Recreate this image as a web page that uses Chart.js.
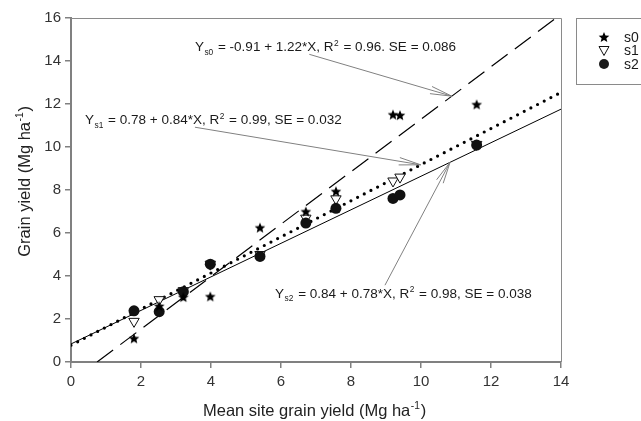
<!DOCTYPE html>
<html><head><meta charset="utf-8">
<script src="https://cdn.jsdelivr.net/npm/chart.js@4"></script>
<style>html,body{margin:0;padding:0;background:#fff}#wrap{width:641px;height:421px}</style>
</head><body><div id="wrap"><canvas id="c" width="641" height="421"></canvas></div>
<script>
// ---- data ----
const siteMeans = [1.8, 2.52, 3.21, 3.98, 5.4, 6.71, 7.57, 9.2, 9.4, 11.59];
const s0Yield = [1.1, 2.6, 3.02, 3.05, 6.25, 7.0, 7.94, 11.51, 11.48, 11.98];
const s1Yield = [1.89, 2.9, 3.32, 4.55, 5.0, 6.69, 7.59, 8.42, 8.6, 10.12];
const s2Yield = [2.38, 2.34, 3.27, 4.55, 4.91, 6.46, 7.15, 7.61, 7.77, 10.09];
const seriesNames = ['s0', 's1', 's2'];
const intercepts = [-0.91, 0.78, 0.84];
const slopes = [1.22, 0.84, 0.78];
const r2Values = ['0.96', '0.99', '0.98'];
const seValues = ['0.086', '0.032', '0.038'];
const xTicks = [0, 2, 4, 6, 8, 10, 12, 14];
const yTicks = [0, 2, 4, 6, 8, 10, 12, 14, 16];
const xTitle = 'Mean site grain yield (Mg ha';
const yTitle = 'Grain yield (Mg ha';

const FONT = '"Liberation Sans", Arial, sans-serif';
const X_MIN = 0, X_MAX = 14, Y_MIN = 0, Y_MAX = 16;

function pts(ys) { return siteMeans.map((x, i) => ({ x: x, y: ys[i] })); }
function fitY(k, x) { return intercepts[k] + slopes[k] * x; }
function regLine(k) {
  const a = intercepts[k], b = slopes[k];
  let x0 = X_MIN, y0 = fitY(k, x0);
  if (y0 < Y_MIN) { x0 = (Y_MIN - a) / b; y0 = Y_MIN; }
  let x1 = X_MAX, y1 = fitY(k, x1);
  if (y1 > Y_MAX) { x1 = (Y_MAX - a) / b; y1 = Y_MAX; }
  return [{ x: x0, y: y0 }, { x: x1, y: y1 }];
}

function makeStar(r) {
  const c = document.createElement('canvas');
  const s = Math.ceil(r * 2 + 2); c.width = s; c.height = s;
  const g = c.getContext('2d'); g.fillStyle = '#000'; g.beginPath();
  for (let i = 0; i < 10; i++) {
    const rr = i % 2 === 0 ? r : r * 0.45;
    const ang = -Math.PI / 2 + i * Math.PI / 5;
    const px = s / 2 + rr * Math.cos(ang), py = s / 2 + rr * Math.sin(ang) + 0.5;
    i === 0 ? g.moveTo(px, py) : g.lineTo(px, py);
  }
  g.closePath(); g.fill(); return c;
}
const starImg = makeStar(5.6);

function eqParts(k) {
  const a = intercepts[k];
  const aStr = a < 0 ? '-' + Math.abs(a).toFixed(2) : a.toFixed(2);
  const sep = k === 0 ? '. ' : ', ';
  return [
    { t: 'Y' }, { t: 's' + k, sub: true },
    { t: ' = ' + aStr + ' + ' + slopes[k].toFixed(2) + '*' },
    { t: 'X', mark: true },
    { t: ', R' }, { t: '2', sup: true },
    { t: ' = ' + r2Values[k] + sep + 'SE = ' + seValues[k] }
  ];
}

function drawRich(ctx, parts, x, y, size) {
  let cx = x, markX = null;
  for (const p of parts) {
    if (p.sub || p.sup) {
      ctx.font = (size * 0.62) + 'px ' + FONT;
      const dy = p.sub ? size * 0.28 : -size * 0.42;
      ctx.fillText(p.t, cx + 0.5, y + dy);
      cx += ctx.measureText(p.t).width + 1.5;
    } else {
      ctx.font = size + 'px ' + FONT;
      if (p.mark) markX = cx;
      ctx.fillText(p.t, cx, y);
      cx += ctx.measureText(p.t).width;
    }
  }
  return { width: cx - x, markX: markX };
}

function arrow(ctx, x0, y0, x1, y1) {
  ctx.beginPath(); ctx.moveTo(x0, y0); ctx.lineTo(x1, y1); ctx.stroke();
  const ang = Math.atan2(y1 - y0, x1 - x0), L = 22, w = 0.17;
  ctx.beginPath();
  ctx.moveTo(x1 - L * Math.cos(ang - w), y1 - L * Math.sin(ang - w));
  ctx.lineTo(x1, y1);
  ctx.lineTo(x1 - L * Math.cos(ang + w), y1 - L * Math.sin(ang + w));
  ctx.stroke();
}

// annotation layout: text baseline anchor (data coords), arrow tail side, tip x on fit line
const annLayout = [
  { tx: 3.54, ty: 14.45, tail: 'below', tipX: 10.88 },
  { tx: 0.40, ty: 11.06, tail: 'below', tipX: 9.99 },
  { tx: 5.83, ty: 2.99, tail: 'above', tipX: 10.83 }
];
const ANN_SIZE = 13.5;

const decor = {
  id: 'decor',
  afterDatasetsDraw(chart) {
    const ctx = chart.ctx, xs = chart.scales.x, ys = chart.scales.y, ca = chart.chartArea;
    ctx.save();
    ctx.strokeStyle = '#8a8a8a'; ctx.lineWidth = 1;
    ctx.beginPath(); ctx.moveTo(ca.left, ca.top + 0.5); ctx.lineTo(ca.right + 0.5, ca.top + 0.5); ctx.lineTo(ca.right + 0.5, ca.bottom); ctx.stroke();
    ctx.fillStyle = '#1a1a1a'; ctx.textBaseline = 'alphabetic'; ctx.textAlign = 'left';
    annLayout.forEach((L, k) => {
      const bx = xs.getPixelForValue(L.tx), by = ys.getPixelForValue(L.ty);
      const r = drawRich(ctx, eqParts(k), bx, by, ANN_SIZE);
      const sx = r.markX + 2;
      const sy = L.tail === 'below' ? by + 3 : by - ANN_SIZE + 1;
      ctx.strokeStyle = '#808080'; ctx.lineWidth = 1;
      arrow(ctx, sx, sy, xs.getPixelForValue(L.tipX), ys.getPixelForValue(fitY(k, L.tipX)));
    });
    // axis titles
    ctx.fillStyle = '#222';
    const TS = 16.5;
    ctx.font = TS + 'px ' + FONT;
    const xw = ctx.measureText(xTitle + ')').width + TS * 0.62 * 1.1 + 2;
    drawRich(ctx, [{ t: xTitle }, { t: '-1', sup: true }, { t: ')' }], (ca.left + ca.right) / 2 - xw / 2, 416, TS);
    ctx.save();
    ctx.translate(30, 180); ctx.rotate(-Math.PI / 2);
    ctx.font = TS + 'px ' + FONT;
    const yw = ctx.measureText(yTitle + ')').width + TS * 0.62 * 1.1 + 2;
    drawRich(ctx, [{ t: yTitle }, { t: '-1', sup: true }, { t: ')' }], -yw / 2, 0, TS);
    ctx.restore();
    // legend
    ctx.strokeStyle = '#8a8a8a'; ctx.lineWidth = 1;
    ctx.strokeRect(576.5, 18.5, 90, 66);
    ctx.font = '14px ' + FONT; ctx.fillStyle = '#1a1a1a'; ctx.textBaseline = 'middle';
    const ly = [37, 50.5, 64];
    seriesNames.forEach((n, i) => {
      const cx = 604, cy = ly[i];
      if (i === 0) ctx.drawImage(starImg, cx - starImg.width / 2, cy - starImg.height / 2);
      else if (i === 1) {
        ctx.beginPath(); ctx.moveTo(cx - 5, cy - 4); ctx.lineTo(cx + 5, cy - 4); ctx.lineTo(cx, cy + 5); ctx.closePath();
        ctx.fillStyle = '#fff'; ctx.fill(); ctx.strokeStyle = '#111'; ctx.stroke(); ctx.fillStyle = '#1a1a1a';
      } else { ctx.beginPath(); ctx.arc(cx, cy, 5, 0, Math.PI * 2); ctx.fill(); }
      ctx.fillText(n, 624, cy + 1);
    });
    ctx.restore();
  }
};

new Chart(document.getElementById('c'), {
  type: 'scatter',
  data: {
    datasets: [
      { type: 'line', label: 'fit s0', data: regLine(0), borderColor: '#000', borderWidth: 1.2, borderDash: [20, 9], pointRadius: 0, fill: false, order: 5 },
      { type: 'line', label: 'fit s1', data: regLine(1), borderColor: '#000', borderWidth: 3.2, borderDash: [0, 7.5], borderCapStyle: 'round', pointRadius: 0, fill: false, order: 5 },
      { type: 'line', label: 'fit s2', data: regLine(2), borderColor: '#000', borderWidth: 1, pointRadius: 0, fill: false, order: 5 },
      { label: seriesNames[1], data: pts(s1Yield), pointStyle: 'triangle', rotation: 180, radius: 6, backgroundColor: '#fff', borderColor: '#111', borderWidth: 1, order: 3 },
      { label: seriesNames[2], data: pts(s2Yield), pointStyle: 'circle', radius: 5.5, backgroundColor: '#111', borderColor: '#111', borderWidth: 0, order: 2 },
      { label: seriesNames[0], data: pts(s0Yield), pointStyle: starImg, radius: 6, backgroundColor: '#000', order: 1 }
    ]
  },
  options: {
    responsive: false, animation: false, devicePixelRatio: 1,
    layout: { padding: { top: 18, right: 80, left: 0, bottom: 0 } },
    plugins: { legend: { display: false }, tooltip: { enabled: false } },
    scales: {
      x: {
        type: 'linear', min: X_MIN, max: X_MAX,
        afterBuildTicks: s => { s.ticks = xTicks.map(v => ({ value: v })); },
        afterFit: s => { s.height = 59; },
        grid: { display: true, drawOnChartArea: false, drawTicks: true, tickLength: 6, color: '#808080', lineWidth: 1.5 },
        border: { display: true, color: '#808080', width: 2 },
        ticks: { color: '#333', font: { family: FONT, size: 15 }, padding: 5, maxRotation: 0 }
      },
      y: {
        type: 'linear', min: Y_MIN, max: Y_MAX,
        afterBuildTicks: s => { s.ticks = yTicks.map(v => ({ value: v })); },
        afterFit: s => { s.width = 71; },
        grid: { display: true, drawOnChartArea: false, drawTicks: true, tickLength: 6, color: '#808080', lineWidth: 1.5 },
        border: { display: true, color: '#808080', width: 2 },
        ticks: { color: '#333', font: { family: FONT, size: 15 }, padding: 4 }
      }
    }
  },
  plugins: [decor]
});
</script></body></html>
